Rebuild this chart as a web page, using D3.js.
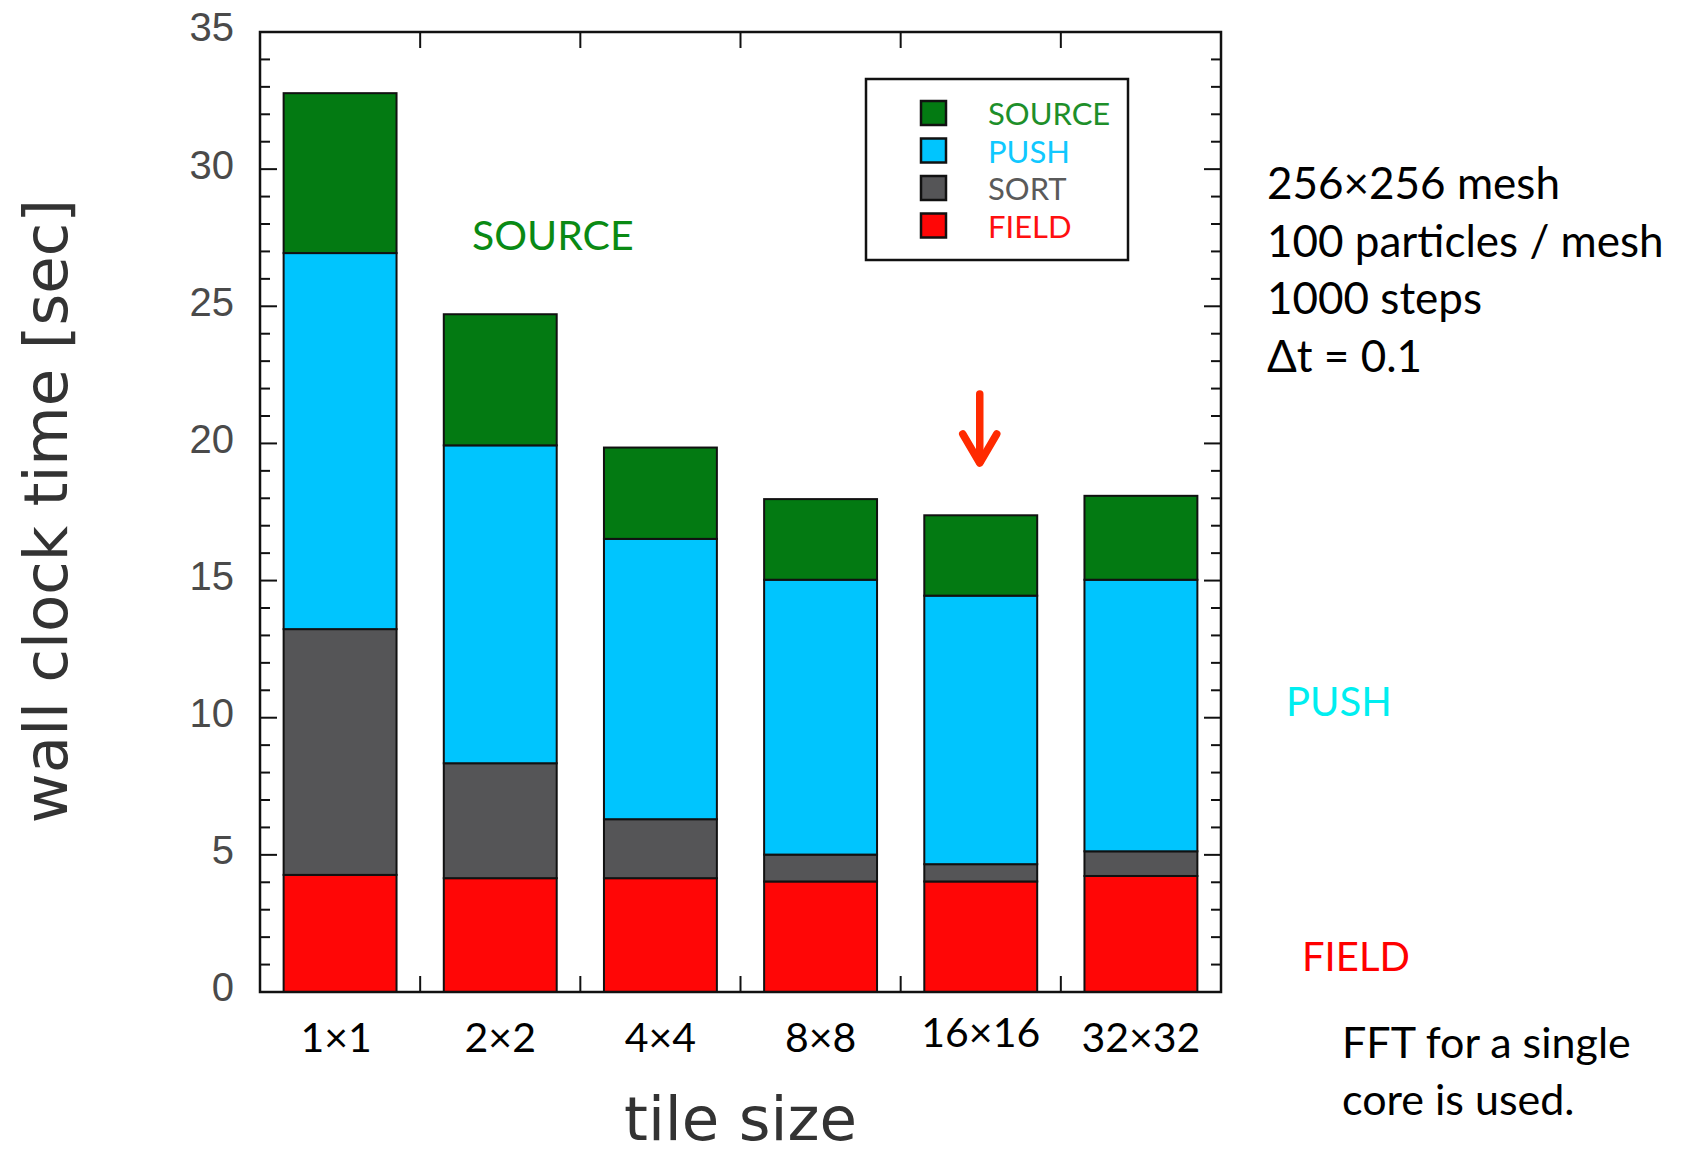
<!DOCTYPE html>
<html>
<head>
<meta charset="utf-8">
<script src="https://cdnjs.cloudflare.com/ajax/libs/d3/7.8.5/d3.min.js"></script>
<style>
html,body{margin:0;padding:0;background:#fff;}
svg{display:block;}
</style>
</head>
<body>
<svg id="chart" width="1681" height="1154"></svg>
<script>
const categories = ["1×1", "2×2", "4×4", "8×8", "16×16", "32×32"];
const seriesNames = ["FIELD", "SORT", "PUSH", "SOURCE"];
const field  = [4.27, 4.15, 4.15, 4.03, 4.03, 4.23];
const sort   = [8.96, 4.19, 2.15, 0.98, 0.63, 0.90];
const push   = [13.71, 11.59, 10.22, 10.02, 9.79, 9.90];
const source = [5.83, 4.78, 3.33, 2.94, 2.93, 3.06];
const yTicks = [0, 5, 10, 15, 20, 25, 30, 35];
const legendOrder = ["SOURCE", "PUSH", "SORT", "FIELD"];
const infoLines = ["256×256 mesh", "100 particles / mesh", "1000 steps", "Δt = 0.1"];
const noteLines = ["FFT for a single", "core is used."];

const fillColors = {SOURCE: "#037a12", PUSH: "#00c5fe", SORT: "#555557", FIELD: "#ff0606"};
const textColors = {SOURCE: "#1e8f2a", PUSH: "#10c8ff", SORT: "#5a5a5a", FIELD: "#ff1010"};

const rows = categories.map((c, i) => ({cat: c, FIELD: field[i], SORT: sort[i], PUSH: push[i], SOURCE: source[i]}));

const svg = d3.select("#chart");
const L = 260, R = 1221, T = 32, B = 992;

const x = d3.scaleBand().domain(categories).range([L, R]).paddingInner(0.295).paddingOuter(0.1475);
const xb = d3.scaleBand().domain(categories).range([L, R]).padding(0);
const y = d3.scaleLinear().domain([0, 35]).range([B, T]);

const stack = d3.stack().keys(seriesNames)(rows);

// bars
svg.append("g").selectAll("g").data(stack).join("g")
  .attr("fill", d => fillColors[d.key])
  .selectAll("rect").data(d => d).join("rect")
  .attr("x", d => x(d.data.cat))
  .attr("width", x.bandwidth())
  .attr("y", d => y(d[1]))
  .attr("height", d => y(d[0]) - y(d[1]))
  .attr("stroke", "#111")
  .attr("stroke-width", 2);

// minor ticks (every unit), inward on left & right
const minor = d3.range(0, 36).filter(v => v % 5 !== 0);
const tickG = svg.append("g").attr("stroke", "#111").attr("stroke-width", 2);
minor.forEach(v => {
  tickG.append("line").attr("x1", L).attr("x2", L + 10).attr("y1", y(v)).attr("y2", y(v));
  tickG.append("line").attr("x1", R).attr("x2", R - 10).attr("y1", y(v)).attr("y2", y(v));
});
yTicks.forEach(v => {
  tickG.append("line").attr("x1", L).attr("x2", L + 17).attr("y1", y(v)).attr("y2", y(v));
  tickG.append("line").attr("x1", R).attr("x2", R - 17).attr("y1", y(v)).attr("y2", y(v));
});
// x ticks between categories, top & bottom
categories.slice(1).forEach(c => {
  const xx = xb(c);
  tickG.append("line").attr("x1", xx).attr("x2", xx).attr("y1", T).attr("y2", T + 16);
  tickG.append("line").attr("x1", xx).attr("x2", xx).attr("y1", B).attr("y2", B - 16);
});

// frame
svg.append("rect").attr("x", L).attr("y", T).attr("width", R - L).attr("height", B - T)
  .attr("fill", "none").attr("stroke", "#111").attr("stroke-width", 2.5);

// y tick labels
svg.append("g").selectAll("text").data(yTicks).join("text")
  .attr("x", L - 26).attr("y", d => y(d) - 5)
  .attr("dy", "0.36em")
  .attr("text-anchor", "end")
  .attr("font-family", "Liberation Sans, Arial, sans-serif")
  .attr("font-size", 40)
  .attr("fill", "#4a4a4a")
  .text(d => d);

// x tick labels
svg.append("g").selectAll("text").data(categories).join("text")
  .attr("x", (d, i) => xb(d) + xb.bandwidth() / 2 - (i === 0 ? 4 : 0))
  .attr("y", (d, i) => i === 4 ? 1047 : 1052)
  .attr("text-anchor", "middle")
  .attr("font-family", "Lato, sans-serif")
  .attr("font-size", 41)
  .attr("fill", "#000")
  .text(d => d);

// axis titles
svg.append("text")
  .attr("transform", "translate(67," + ((T + B) / 2 - 1) + ") rotate(-90)")
  .attr("text-anchor", "middle")
  .attr("font-family", "DejaVu Sans, sans-serif")
  .attr("font-size", 61)
  .attr("fill", "#333")
  .text("wall clock time [sec]");
svg.append("text")
  .attr("x", (L + R) / 2).attr("y", 1140)
  .attr("text-anchor", "middle")
  .attr("font-family", "DejaVu Sans, sans-serif")
  .attr("font-size", 61)
  .attr("fill", "#333")
  .text("tile size");

// legend
const lg = svg.append("g");
lg.append("rect").attr("x", 866).attr("y", 79).attr("width", 262).attr("height", 181)
  .attr("fill", "#fff").attr("stroke", "#111").attr("stroke-width", 2.5);
legendOrder.forEach((k, i) => {
  const cy = 113 + i * 37.5;
  lg.append("rect").attr("x", 921).attr("y", cy - 12).attr("width", 25).attr("height", 24)
    .attr("fill", fillColors[k]).attr("stroke", "#111").attr("stroke-width", 2.5);
  lg.append("text").attr("x", 988).attr("y", cy + 1).attr("dy", "0.36em")
    .attr("font-family", "Lato, sans-serif").attr("font-size", 31)
    .attr("fill", textColors[k]).text(k);
});

// annotations
svg.append("text").attr("x", 472).attr("y", 250)
  .attr("font-family", "Lato, sans-serif").attr("font-size", 41)
  .attr("fill", "#0a8a14").text("SOURCE");
svg.append("text").attr("x", 1286).attr("y", 716)
  .attr("font-family", "Lato, sans-serif").attr("font-size", 40)
  .attr("fill", "#00eef0").text("PUSH");
svg.append("text").attr("x", 1302).attr("y", 971)
  .attr("font-family", "Lato, sans-serif").attr("font-size", 40)
  .attr("fill", "#ff0000").text("FIELD");

svg.append("g").selectAll("text").data(infoLines).join("text")
  .attr("x", 1267).attr("y", (d, i) => 199 + i * 57.5)
  .attr("font-family", "Lato, sans-serif").attr("font-size", 44)
  .attr("fill", "#000").text(d => d);
svg.append("g").selectAll("text").data(noteLines).join("text")
  .attr("x", 1342).attr("y", (d, i) => 1058 + i * 57)
  .attr("font-family", "Lato, sans-serif").attr("font-size", 43)
  .attr("fill", "#000").text(d => d);

// arrow above 16×16
const ax = xb("16×16") + xb.bandwidth() / 2 - 1;
const ar = svg.append("g").attr("stroke", "#ff2a00").attr("fill", "none")
  .attr("stroke-width", 7.5).attr("stroke-linecap", "round").attr("stroke-linejoin", "round");
ar.append("line").attr("x1", ax).attr("x2", ax).attr("y1", 394).attr("y2", 462);
ar.append("path").attr("d", `M${ax - 17},${434} L${ax},${463} L${ax + 17},${434}`);
</script>
</body>
</html>
